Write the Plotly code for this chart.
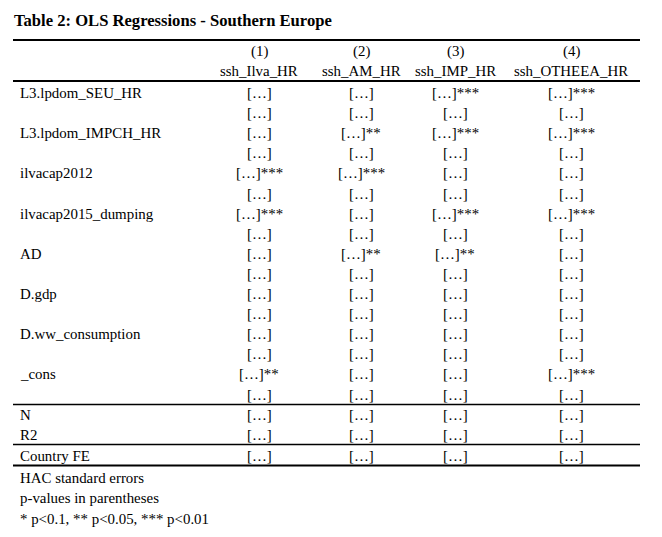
import plotly.graph_objects as go

# ---------------- data ----------------
title = "Table 2: OLS Regressions - Southern Europe"
model_numbers = ["(1)", "(2)", "(3)", "(4)"]
dep_vars = ["ssh_Ilva_HR", "ssh_AM_HR", "ssh_IMP_HR", "ssh_OTHEEA_HR"]
variables = ["L3.lpdom_SEU_HR", "L3.lpdom_IMPCH_HR", "ilvacap2012",
             "ilvacap2015_dumping", "AD", "D.gdp", "D.ww_consumption", "_cons"]
cell_value = "[…]"
stars_m1 = ["", "", "***", "***", "", "", "", "**"]
stars_m2 = ["", "**", "***", "", "**", "", "", ""]
stars_m3 = ["***", "***", "", "***", "**", "", "", ""]
stars_m4 = ["***", "***", "", "***", "", "", "", "***"]
stat_labels = ["N", "R2"]
fe_labels = ["Country FE"]
notes = ["HAC standard errors", "p-values in parentheses",
         "* p<0.1, ** p<0.05, *** p<0.01"]

# ---------------- layout constants ----------------
PAGE_W, PAGE_H = 662, 537
BODY = 8  # default page margin around the plot div
W, H = PAGE_W - BODY, PAGE_H - BODY
FONT = "Liberation Serif, Times New Roman, serif"
FS = 14.9
FS_TITLE = 16.6
col_x = [259, 361, 455, 571]
label_x = 18
line_x0, line_x1 = 13, 640
y_title = 20
y_top_line = 40
y_num = 51
y_dep = 71
y_head_line = 81
y_row0 = 93
pitch = 20.1
stars_all = [stars_m1, stars_m2, stars_m3, stars_m4]

ann = []
shapes = []


def txt(x, y, s, anchor="center", bold=False, size=FS):
    ann.append(dict(x=x, y=y, xref="x", yref="y", text=("<b>%s</b>" % s) if bold else s,
                    showarrow=False, xanchor=anchor, yanchor="middle",
                    font=dict(family=FONT, size=size, color="black")))


def hline(y, w=1.5):
    shapes.append(dict(type="line", xref="x", yref="y", x0=line_x0, x1=line_x1,
                       y0=y, y1=y, line=dict(color="black", width=w)))


txt(12, y_title, title, anchor="left", bold=True, size=FS_TITLE)
hline(y_top_line, 2)
for j in range(4):
    txt(col_x[j], y_num, model_numbers[j])
    txt(col_x[j], y_dep, dep_vars[j])
hline(y_head_line, 2)

for i, v in enumerate(variables):
    y1 = y_row0 + (2 * i) * pitch
    y2 = y_row0 + (2 * i + 1) * pitch
    txt(label_x, y1, v, anchor="left")
    for j in range(4):
        txt(col_x[j], y1, cell_value + stars_all[j][i])
        txt(col_x[j], y2, cell_value)

y_last = y_row0 + 15 * pitch
y_line2 = y_last + 10
hline(y_line2)
for k, s in enumerate(stat_labels):
    y = y_line2 + 10 + k * 20
    txt(label_x, y, s, anchor="left")
    for j in range(4):
        txt(col_x[j], y, cell_value)
y_line3 = y_line2 + 10 + 20 + 10
hline(y_line3)
y_fe = y_line3 + 11
txt(label_x, y_fe, fe_labels[0], anchor="left")
for j in range(4):
    txt(col_x[j], y_fe, cell_value)
y_line4 = y_fe + 10
hline(y_line4, 2)
for k, s in enumerate(notes):
    txt(label_x, y_line4 + 12 + k * 20.5, s, anchor="left")

fig = go.Figure()
fig.add_trace(go.Scatter(x=[BODY, PAGE_W], y=[BODY, PAGE_H], mode="markers",
                         marker=dict(opacity=0), hoverinfo="skip", showlegend=False))
fig.update_layout(
    width=W, height=H, margin=dict(l=0, r=0, t=0, b=0),
    paper_bgcolor="white", plot_bgcolor="white",
    xaxis=dict(range=[BODY, PAGE_W], visible=False, fixedrange=True),
    yaxis=dict(range=[PAGE_H, BODY], visible=False, fixedrange=True),
    annotations=ann, shapes=shapes, showlegend=False,
)
fig.write_html("out.html")
